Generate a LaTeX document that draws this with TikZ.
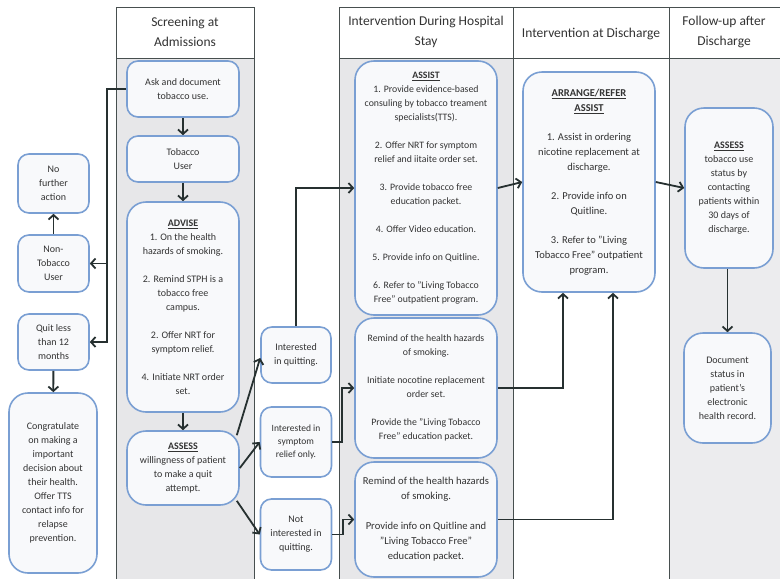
\documentclass[tikz,border=0pt]{standalone}
\usepackage{fontspec}
\setmainfont{Carlito}
\usetikzlibrary{arrows.meta}
\definecolor{boxline}{HTML}{7A9FD3}
\definecolor{boxfill}{HTML}{F8F9FB}
\definecolor{lanegray}{HTML}{E7E7E9}
\definecolor{lanegrayb}{HTML}{ECECEE}
\definecolor{ink}{HTML}{263030}
\definecolor{txt}{HTML}{333333}
\begin{document}
\begin{tikzpicture}[x=1pt,y=-1pt,
  box/.style={draw=boxline, fill=boxfill, line width=1.6pt, rounded corners=11pt,
    inner sep=0pt, align=center, text=txt, font=\fontsize{10}{14}\selectfont},
  bigbox/.style={box, rounded corners=19pt},
  arr/.style={draw=ink, line width=1.8pt, -{Straight Barb[length=4.5pt,width=10pt]}},
  lane/.style={draw=ink!85, line width=0.8pt},
  head/.style={align=center, text=txt, font=\fontsize{13.5}{20}\selectfont}]
\useasboundingbox (0,0) rectangle (780,579);
% lanes
\fill[lanegray] (116,58) rectangle (254,579);
\fill[lanegray] (339,58) rectangle (513,579);
\fill[lanegrayb] (669,58) rectangle (780,579);
\fill[white] (116,7) rectangle (254,58);
\fill[white] (339,7) rectangle (780,58);
\draw[lane] (116,579) -- (116,7) -- (254,7) -- (254,579);
\draw[lane] (116,58) -- (254,58);
\draw[lane] (339,579) -- (339,7) -- (780,7);
\draw[lane] (339,58) -- (780,58);
\draw[lane] (513,7) -- (513,579);
\draw[lane] (669,7) -- (669,579);
% headers
\node[head] (h1) at (185,32) {Screening at\\Admissions};
\node[head] (h2) at (426,32) {Intervention During Hospital\\Stay};
\node[head] (h3) at (591,34) {Intervention at Discharge};
\node[head] (h4) at (724,32) {Follow-up after\\Discharge};
% column 1
\node[box, minimum width=112pt, minimum height=56pt] (ask) at (183,89) {Ask and document\\tobacco use.};
\node[box, minimum width=112pt, minimum height=46pt] (tob) at (183,159) {Tobacco\\User};
\node[bigbox, minimum width=112pt, minimum height=210pt] (advise) at (183,307)
 {\underline{\textbf{ADVISE}}\\1. On the health\\hazards of smoking.\\[14pt]2. Remind STPH is a\\tobacco free\\campus.\\[14pt]2. Offer NRT for\\symptom relief.\\[14pt]4. Initiate NRT order\\set.};
\node[bigbox, minimum width=112pt, minimum height=74pt] (assess1) at (183,468)
 {\underline{\textbf{ASSESS}}\\willingness of patient\\to make a quit\\attempt.};
% left column
\node[box, minimum width=71pt, minimum height=59pt] (nofurther) at (53.5,183.5) {No\\further\\action};
\node[box, minimum width=71pt, minimum height=57pt] (nontob) at (53.5,263.5) {Non-\\Tobacco\\User};
\node[box, minimum width=71pt, minimum height=56pt] (quit) at (53.5,342) {Quit less\\than 12\\months};
\node[bigbox, minimum width=88pt, minimum height=180pt] (congrat) at (53,483)
 {Congratulate\\on making a\\important\\decision about\\their health.\\Offer TTS\\contact info for\\relapse\\prevention.};
% middle column
\node[box, minimum width=70pt, minimum height=56pt] (intq) at (296,355) {Interested\\in quitting.};
\node[box, minimum width=71pt, minimum height=70pt, font=\fontsize{9.5}{13}\selectfont] (intsym) at (296,442) {Interested in\\symptom\\relief only.};
\node[box, minimum width=71pt, minimum height=71pt] (notint) at (296,534.5) {Not\\interested in\\quitting.};
% hospital column
\node[bigbox, minimum width=142pt, minimum height=254pt, font=\fontsize{9.8}{14}\selectfont] (assist) at (426,188)
 {\underline{\textbf{ASSIST}}\\1. Provide evidence-based\\consuling by tobacco treament\\specialists(TTS).\\[14pt]2. Offer NRT for symptom\\relief and iitaite order set.\\[14pt]3. Provide tobacco free\\education packet.\\[14pt]4. Offer Video education.\\[14pt]5. Provide info on Quitline.\\[14pt]6. Refer to "Living Tobacco\\Free" outpatient program.};
\node[bigbox, minimum width=142pt, minimum height=140pt, font=\fontsize{9.8}{14}\selectfont] (remind1) at (426,388)
 {Remind of the health hazards\\of smoking.\\[14pt]Initiate nocotine replacement\\order set.\\[14pt]Provide the "Living Tobacco\\Free" education packet.};
\node[bigbox, minimum width=142pt, minimum height=115pt, font=\fontsize{10.6}{15}\selectfont] (remind2) at (426,519.5)
 {Remind of the health hazards\\of smoking.\\[15pt]Provide info on Quitline and\\"Living Tobacco Free"\\education packet.};
% discharge column
\node[bigbox, minimum width=132pt, minimum height=220pt, font=\fontsize{10.5}{15}\selectfont] (arrange) at (589,182)
 {\underline{\textbf{ARRANGE/REFER}}\\\underline{\textbf{ASSIST}}\\[14pt]1. Assist in ordering\\nicotine replacement at\\discharge.\\[14pt]2. Provide info on\\Quitline.\\[14pt]3. Refer to "Living\\Tobacco Free" outpatient\\program.};
% follow-up column
\node[bigbox, minimum width=88pt, minimum height=160pt] (assess2) at (729,188)
 {\underline{\textbf{ASSESS}}\\tobacco use\\status by\\contacting\\patients within\\30 days of\\discharge.};
\node[bigbox, minimum width=87pt, minimum height=110pt] (document) at (727.5,388)
 {Document\\status in\\patient’s\\electronic\\health record.};
% connectors
\coordinate (j1) at (107,89);
\draw[arr] (ask.west) -- (j1) |- (nontob.east);
\draw[arr] (j1) |- (quit.east);
\draw[arr] (nontob) -- (nofurther);
\draw[arr] (quit) -- (congrat);
\draw[arr] (ask) -- (tob);
\draw[arr] (tob) -- (advise);
\draw[arr] (advise) -- (assess1);
\draw[arr] ([xshift=-3pt,yshift=-5pt]assess1.north east) -- ([yshift=-3pt]intq.west);
\draw[arr] (assess1.east) -- (intsym.west);
\draw[arr] ([xshift=-3pt,yshift=5pt]assess1.south east) -- (notint.west);
\draw[arr] (intq.north) |- (assist.west);
\draw[arr] (intsym.east) -- ++(10,0) |- (remind1.west);
\draw[arr] (notint.east) -- ++(11,0) |- (remind2.west);
\draw[arr] (assist.east) -- (arrange.west);
\draw[arr] (remind1.east) -| ([xshift=-26pt]arrange.south);
\draw[arr] (remind2.east) -| ([xshift=24pt]arrange.south);
\draw[arr] (arrange.east) -- (assess2.west);
\draw[arr] (document.north |- assess2.south) -- (document.north);
\end{tikzpicture}
\end{document}
